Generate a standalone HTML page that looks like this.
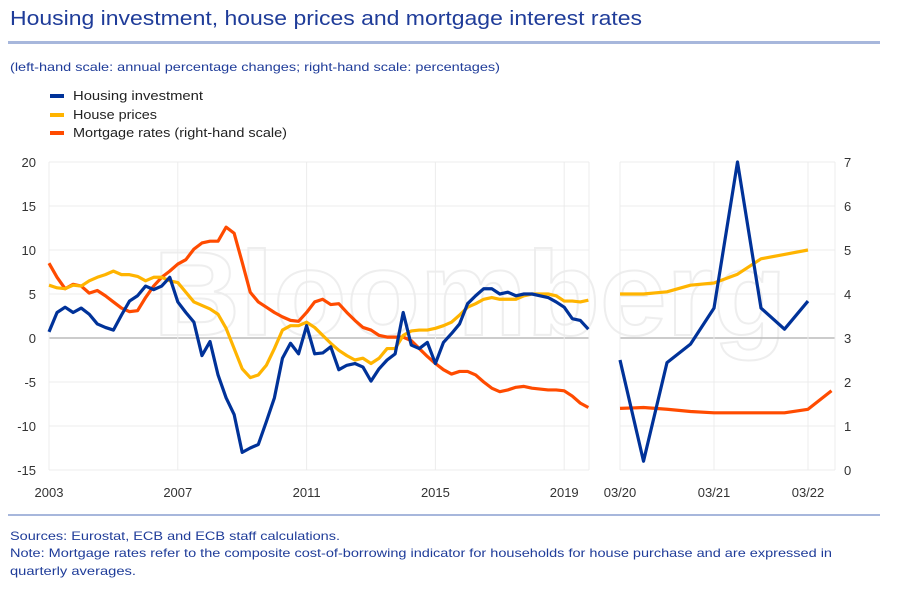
<!DOCTYPE html>
<html><head><meta charset="utf-8"><style>
body{margin:0;background:#fff;}
svg text{font-family:"Liberation Sans",sans-serif;}
</style></head><body>
<svg id="c" width="906" height="600" xmlns="http://www.w3.org/2000/svg">
<text x="10" y="25" font-size="20" fill="#1f3c99" textLength="632" lengthAdjust="spacingAndGlyphs">Housing investment, house prices and mortgage interest rates</text>
<rect x="8" y="41" width="872" height="3" fill="#a7b7dc"/>
<text x="10" y="71" font-size="12" fill="#1f3c99" textLength="490" lengthAdjust="spacingAndGlyphs">(left-hand scale: annual percentage changes; right-hand scale: percentages)</text>
<g>
<rect x="50" y="94" width="14" height="4" fill="#003299"/>
<text x="73" y="100" font-size="13" fill="#222" textLength="130" lengthAdjust="spacingAndGlyphs">Housing investment</text>
<rect x="50" y="113" width="14" height="4" fill="#ffb400"/>
<text x="73" y="119" font-size="13" fill="#222" textLength="84" lengthAdjust="spacingAndGlyphs">House prices</text>
<rect x="50" y="131" width="14" height="4" fill="#ff4b00"/>
<text x="73" y="137" font-size="13" fill="#222" textLength="214" lengthAdjust="spacingAndGlyphs">Mortgage rates (right-hand scale)</text>
</g>
<text x="470" y="335" font-size="120" font-weight="bold" fill="none" stroke="#eeeeee" stroke-width="2" text-anchor="middle">Bloomberg</text>
<g id="grid"></g>
<g id="series"></g>
<g id="axes"></g>
<rect x="8" y="514" width="872" height="2" fill="#a7b7dc"/>
<text x="10" y="540" font-size="12" fill="#1f3c99" textLength="330" lengthAdjust="spacingAndGlyphs">Sources: Eurostat, ECB and ECB staff calculations.</text>
<text x="10" y="557" font-size="12" fill="#1f3c99" textLength="822" lengthAdjust="spacingAndGlyphs">Note: Mortgage rates refer to the composite cost-of-borrowing indicator for households for house purchase and are expressed in</text>
<text x="10" y="575" font-size="12" fill="#1f3c99" textLength="126" lengthAdjust="spacingAndGlyphs">quarterly averages.</text>
</svg>
<script>
// Left panel: quarterly 2003Q1..2019Q4
const housingInvestment=[0.7,2.9,3.5,2.9,3.4,2.7,1.6,1.2,0.9,2.6,4.2,4.8,5.9,5.5,5.9,6.9,4.1,2.9,1.8,-2.0,-0.4,-4.2,-6.8,-8.7,-13.0,-12.5,-12.1,-9.5,-6.8,-2.3,-0.6,-1.8,1.4,-1.8,-1.7,-1.0,-3.6,-3.1,-2.9,-3.3,-4.9,-3.5,-2.5,-1.8,2.9,-0.8,-1.2,-0.5,-2.9,-0.5,0.5,1.6,3.9,4.8,5.6,5.6,5.0,5.2,4.8,5.0,5.0,4.8,4.6,4.1,3.5,2.2,2.0,1.0];
const housePrices=[6.0,5.7,5.6,6.0,5.9,6.5,6.9,7.2,7.6,7.2,7.2,7.0,6.5,6.9,6.9,6.5,6.3,5.2,4.1,3.7,3.3,2.7,1.1,-1.2,-3.5,-4.5,-4.2,-3.1,-1.2,0.9,1.4,1.4,1.8,1.2,0.3,-0.6,-1.4,-2.0,-2.5,-2.3,-2.9,-2.3,-1.2,-1.2,0.3,0.8,0.9,0.9,1.1,1.4,1.8,2.6,3.5,3.9,4.4,4.6,4.4,4.4,4.4,4.8,5.0,5.0,5.0,4.8,4.2,4.2,4.1,4.3];
const mortgageRates=[4.70,4.38,4.12,4.22,4.18,4.02,4.08,3.96,3.82,3.68,3.60,3.62,3.92,4.18,4.38,4.52,4.68,4.78,5.02,5.16,5.20,5.20,5.52,5.38,4.72,4.04,3.82,3.70,3.58,3.48,3.40,3.38,3.58,3.82,3.88,3.76,3.78,3.58,3.40,3.24,3.18,3.06,3.02,3.02,3.02,2.94,2.76,2.58,2.42,2.28,2.18,2.24,2.24,2.16,2.00,1.86,1.78,1.82,1.88,1.90,1.86,1.84,1.82,1.82,1.80,1.68,1.52,1.42];
// Right panel: quarterly 2020Q1..2022Q1 (mortgage to 2022Q2)
const housingInvestmentRecent=[-2.5,-14.0,-2.8,-0.7,3.4,20.0,3.4,1.0,4.2];
const housePricesRecent=[5.0,5.0,5.25,6.0,6.25,7.25,9.0,9.5,10.0];
const mortgageRatesRecent=[1.40,1.42,1.38,1.33,1.30,1.30,1.30,1.30,1.38,1.80];
const leftTicks=[20,15,10,5,0,-5,-10,-15];
const rightTicks=[7,6,5,4,3,2,1,0];
const yearLabels=["2003","2007","2011","2015","2019"];
const recentLabels=["03/20","03/21","03/22"];

const NS="http://www.w3.org/2000/svg";
const L={x0:49,x1:589,step:8.05};
const R={x0:620,x1:835,step:23.5};
const yTop=162,yBot=470;
const yL=v=>yTop+(20-v)*(yBot-yTop)/35;
const yR=v=>yTop+(7-v)*(yBot-yTop)/7;
const xL=i=>L.x0+i*L.step;
const xR=i=>R.x0+i*R.step;
function mk(tag,attrs,parent){const e=document.createElementNS(NS,tag);for(const k in attrs)e.setAttribute(k,attrs[k]);parent.appendChild(e);return e;}
const grid=document.getElementById('grid'),ser=document.getElementById('series'),ax=document.getElementById('axes');
leftTicks.forEach(t=>{
  const y=yL(t);
  const g1=mk('line',{x1:L.x0,x2:L.x1,y1:y,y2:y,stroke:t===0?'#bbbbbb':'#ececec','stroke-width':t===0?1.5:1},grid);
  
  
  const g2=mk('line',{x1:R.x0,x2:R.x1,y1:y,y2:y,stroke:t===0?'#bbbbbb':'#ececec','stroke-width':t===0?1.5:1},grid);
  
  
  const tx=mk('text',{x:36,y:y+5,'font-size':13,fill:'#333','text-anchor':'end'},ax);
  tx.textContent=t;
  
  
});
rightTicks.forEach(t=>{
  const tx=mk('text',{x:844,y:yR(t)+5,'font-size':13,fill:'#333'},ax);
  tx.textContent=t;
  
  
});
yearLabels.forEach((lab,k)=>{
  const x=xL(k*16);
  const g=mk('line',{x1:x,x2:x,y1:yTop,y2:yBot,stroke:'#ececec'},grid);
  
  
  const tx=mk('text',{x:x,y:497,'font-size':13,fill:'#333','text-anchor':'middle'},ax);
  tx.textContent=lab;
  
  
});
[L.x1,R.x1].forEach((x,k)=>{
  const g=mk('line',{x1:x,x2:x,y1:yTop,y2:yBot,stroke:'#ececec'},grid);
  
  
});
recentLabels.forEach((lab,k)=>{
  const x=xR(k*4);
  const g=mk('line',{x1:x,x2:x,y1:yTop,y2:yBot,stroke:'#ececec'},grid);
  
  
  const tx=mk('text',{x:x,y:497,'font-size':13,fill:'#333','text-anchor':'middle'},ax);
  tx.textContent=lab;
  
  
});
function line(vals,xf,yf,color,name){
  const p=mk('polyline',{points:vals.map((v,i)=>xf(i)+','+yf(v)).join(' '),fill:'none',stroke:color,'stroke-width':3.2,'stroke-linejoin':'round'},ser);
  
  
}
line(mortgageRates,xL,yR,'#ff4b00','mortgage-rates-line');
line(housePrices,xL,yL,'#ffb400','house-prices-line');
line(housingInvestment,xL,yL,'#003299','housing-investment-line');
line(mortgageRatesRecent,xR,yR,'#ff4b00','mortgage-rates-recent-line');
line(housePricesRecent,xR,yL,'#ffb400','house-prices-recent-line');
line(housingInvestmentRecent,xR,yL,'#003299','housing-investment-recent-line');
</script>
</body></html>
